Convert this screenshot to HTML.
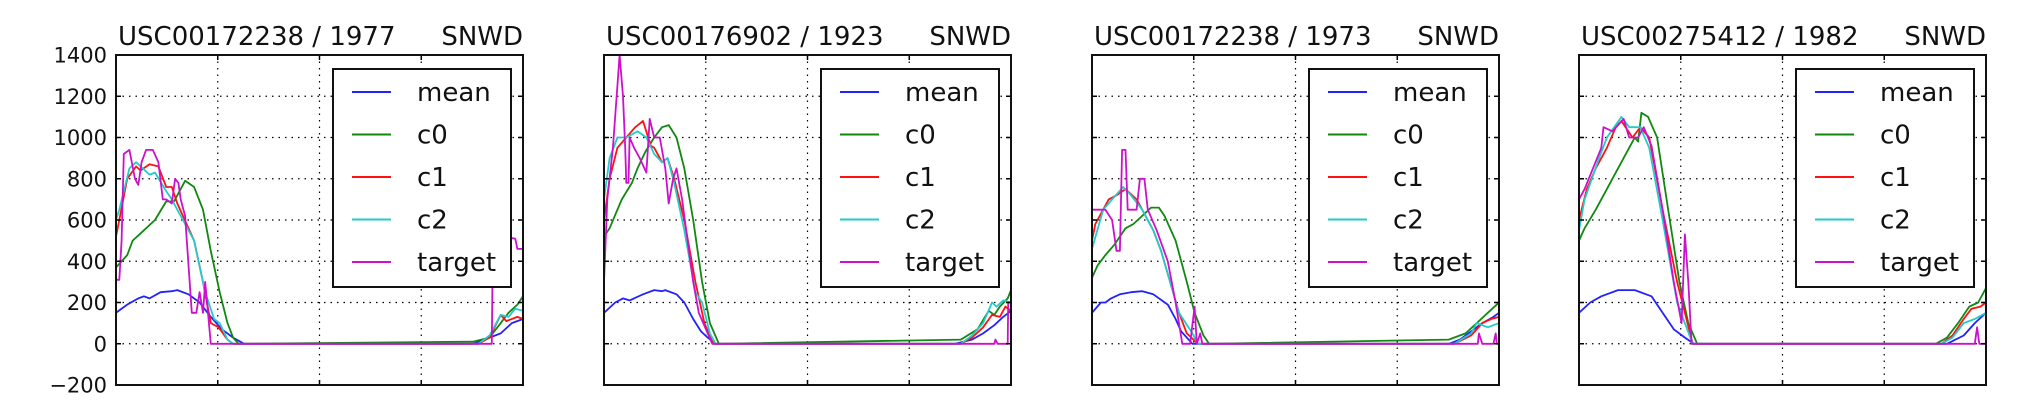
<!DOCTYPE html>
<html><head><meta charset="utf-8"><style>
html,body{margin:0;padding:0;background:#fff;}
svg{display:block;font-family:"DejaVu Sans","Liberation Sans",sans-serif;}
</style></head><body>
<svg id="fig" width="2032" height="410" viewBox="0 0 2032 410" xmlns="http://www.w3.org/2000/svg"></svg>
<script>
const titles = ["USC00172238 / 1977","USC00176902 / 1923","USC00172238 / 1973","USC00275412 / 1982"];
const yTicks = [-200,0,200,400,600,800,1000,1200,1400];
const xTicks = [91.25,182.5,273.75];
const seriesNames = ["mean","c0","c1","c2","target"];
const seriesColors = ["#2222ff","#118811","#ff1111","#22cccc","#cc11cc"];

const ch1_mean = [[0,150],[10,190],[20,220],[25,230],[30,220],[40,250],[50,255],[55,260],[65,240],[75,200],[85,130],[95,70],[105,30],[115,0],[320,0],[330,20],[340,40],[345,50],[355,100],[365,120]];
const ch1_c0 = [[0,370],[10,430],[15,500],[25,550],[35,600],[45,690],[52,690],[58,750],[62,790],[70,760],[78,650],[85,450],[93,250],[100,100],[105,30],[110,0],[320,10],[335,30],[345,100],[352,150],[360,190],[365,230]];
const ch1_c1 = [[0,520],[3,600],[10,800],[18,860],[22,840],[30,870],[38,860],[45,760],[50,760],[55,680],[60,620],[70,500],[78,300],[85,100],[92,80],[100,20],[105,0],[325,0],[335,30],[345,140],[350,110],[360,130],[365,120]];
const ch1_c2 = [[0,600],[3,650],[12,850],[18,880],[30,820],[35,830],[45,740],[50,700],[55,650],[60,600],[70,500],[80,250],[88,120],[93,100],[100,20],[105,0],[325,0],[335,40],[345,140],[352,130],[358,170],[365,160]];
const ch1_target = [[0,310],[3,310],[5,500],[7,920],[12,940],[17,800],[20,770],[23,880],[27,940],[33,940],[38,880],[42,700],[45,700],[50,680],[53,800],[56,780],[58,700],[62,620],[68,150],[72,150],[75,250],[78,150],[80,300],[85,0],[337,0],[338,500],[345,520],[358,510],[360,460],[365,460]];

const ch2_mean = [[0,150],[10,200],[17,220],[23,210],[35,240],[45,260],[52,255],[55,260],[65,240],[72,200],[80,120],[87,60],[93,30],[100,0],[315,0],[330,20],[340,50],[350,90],[358,130],[365,160]];
const ch2_c0 = [[0,520],[5,560],[12,650],[16,700],[25,780],[30,850],[37,930],[45,1000],[52,1050],[58,1060],[65,1000],[72,850],[80,600],[88,300],[95,100],[103,0],[320,20],[335,70],[345,160],[350,140],[355,180],[362,220],[365,260]];
const ch2_c1 = [[0,600],[5,800],[12,950],[20,1000],[28,1050],[35,1080],[42,960],[45,950],[52,880],[57,900],[63,800],[72,600],[82,300],[90,100],[98,0],[320,0],[330,30],[340,80],[348,140],[355,130],[360,180],[365,160]];
const ch2_c2 = [[0,700],[5,900],[12,1000],[20,1000],[30,1030],[38,1000],[45,920],[52,880],[57,900],[63,780],[72,550],[82,250],[88,200],[95,50],[100,0],[320,0],[330,40],[340,100],[348,200],[352,180],[358,210],[365,200]];
const ch2_target = [[0,300],[3,700],[8,950],[12,1250],[14,1400],[17,1200],[19,950],[20,780],[22,780],[23,1000],[27,950],[32,900],[38,830],[41,1090],[45,1000],[50,1000],[55,850],[58,680],[62,800],[65,850],[70,700],[75,500],[80,300],[85,150],[97,0],[350,0],[351,20],[353,0],[362,0],[362.5,200],[365,200]];

const ch3_mean = [[0,150],[8,200],[12,200],[17,220],[25,240],[35,250],[45,255],[55,240],[68,190],[75,120],[80,60],[90,0],[320,0],[330,20],[340,60],[350,100],[360,130],[365,150]];
const ch3_c0 = [[0,320],[5,380],[12,430],[20,480],[30,560],[37,580],[45,620],[53,660],[60,660],[65,620],[75,500],[85,300],[92,150],[100,40],[105,0],[320,20],[335,50],[345,100],[355,150],[365,200]];
const ch3_c1 = [[0,500],[3,580],[15,700],[22,720],[30,750],[40,700],[45,650],[55,550],[62,450],[70,300],[78,150],[85,50],[95,0],[325,0],[340,40],[350,100],[358,120],[365,130]];
const ch3_c2 = [[0,460],[10,650],[18,700],[28,760],[35,720],[45,650],[55,550],[62,450],[70,300],[78,150],[90,50],[95,0],[325,0],[340,50],[345,100],[355,80],[365,100]];
const ch3_target = [[0,650],[12,650],[18,600],[22,450],[25,450],[27,940],[30,940],[32,650],[40,650],[43,800],[47,800],[50,650],[58,550],[68,400],[75,200],[81,0],[88,0],[92,180],[94,0],[97,50],[99,0],[346,0],[347,50],[350,0],[360,0],[362,50],[363,0],[365,0]];

const ch4_mean = [[0,150],[10,200],[20,230],[35,260],[50,260],[65,230],[75,150],[85,70],[95,30],[103,0],[330,0],[345,40],[355,100],[365,150]];
const ch4_c0 = [[0,500],[5,560],[15,650],[25,750],[35,850],[45,950],[50,1000],[53,980],[56,1120],[62,1100],[70,1000],[80,650],[90,300],[98,100],[106,0],[320,0],[330,30],[340,100],[350,180],[358,200],[365,270]];
const ch4_c1 = [[0,600],[7,750],[15,850],[25,950],[33,1050],[38,1080],[48,1000],[55,1050],[63,1000],[75,650],[88,300],[102,0],[325,0],[335,40],[345,120],[352,170],[360,180],[365,200]];
const ch4_c2 = [[0,550],[5,700],[18,900],[25,1000],[38,1100],[45,1050],[55,1050],[63,950],[75,600],[88,200],[102,0],[325,0],[335,30],[345,100],[355,120],[365,150]];
const ch4_target = [[0,700],[5,750],[20,950],[22,1050],[30,1030],[40,1090],[45,1000],[53,1000],[58,1050],[65,960],[75,650],[85,300],[92,100],[95,530],[98,300],[101,0],[355,0],[357,80],[359,0],[365,0]];

const allData = [
  [ch1_mean,ch1_c0,ch1_c1,ch1_c2,ch1_target],
  [ch2_mean,ch2_c0,ch2_c1,ch2_c2,ch2_target],
  [ch3_mean,ch3_c0,ch3_c1,ch3_c2,ch3_target],
  [ch4_mean,ch4_c0,ch4_c1,ch4_c2,ch4_target]
];

const NS = "http://www.w3.org/2000/svg";
const fig = document.getElementById('fig');
function mk(tag, attrs, parent){
  const e = document.createElementNS(NS, tag);
  for (const k in attrs) e.setAttribute(k, attrs[k]);
  parent.appendChild(e);
  return e;
}
const W = 407, H = 330, TOP = 55;
const lefts = [116, 604, 1092, 1579];
const YMIN = -200, YMAX = 1400, XMIN = 0, XMAX = 365;

for (let c = 0; c < 4; c++) {
  const L = lefts[c];
  const xs = d => L + (d - XMIN) / (XMAX - XMIN) * W;
  const ys = v => TOP + H - (v - YMIN) / (YMAX - YMIN) * H;
  const g = mk('g', {}, fig);
  
  

  // grid
  for (const t of yTicks) {
    if (t === YMIN || t === YMAX) continue;
    const ln = mk('line', {x1:L, x2:L+W, y1:ys(t), y2:ys(t), stroke:'#000', 'stroke-width':1.2, 'stroke-dasharray':'1.5,5'}, g);
    
    
  }
  for (const t of xTicks) {
    const ln = mk('line', {x1:xs(t), x2:xs(t), y1:TOP, y2:TOP+H, stroke:'#000', 'stroke-width':1.2, 'stroke-dasharray':'1.5,5'}, g);
    
    
  }

  // series
  const clipId = 'clip' + c;
  const cp = mk('clipPath', {id: clipId}, g);
  mk('rect', {x:L, y:TOP, width:W, height:H}, cp);
  const data = allData[c];
  for (let s = 0; s < 5; s++) {
    const pts = data[s].map(p => xs(p[0]).toFixed(1) + ',' + ys(p[1]).toFixed(1)).join(' ');
    const pl = mk('polyline', {points: pts, fill:'none', stroke: seriesColors[s], 'stroke-width':1.8, 'stroke-linejoin':'round', 'clip-path':'url(#' + clipId + ')'}, g);
    
    
  }

  // ticks
  for (const t of yTicks) {
    if (t === YMIN || t === YMAX) continue;
    mk('line', {x1:L, x2:L+5, y1:ys(t), y2:ys(t), stroke:'#000', 'stroke-width':1.5}, g);
    mk('line', {x1:L+W-5, x2:L+W, y1:ys(t), y2:ys(t), stroke:'#000', 'stroke-width':1.5}, g);
  }
  for (const t of xTicks) {
    mk('line', {x1:xs(t), x2:xs(t), y1:TOP, y2:TOP+5, stroke:'#000', 'stroke-width':1.5}, g);
    mk('line', {x1:xs(t), x2:xs(t), y1:TOP+H-5, y2:TOP+H, stroke:'#000', 'stroke-width':1.5}, g);
  }

  // frame
  const fr = mk('rect', {x:L, y:TOP, width:W, height:H, fill:'none', stroke:'#111', 'stroke-width':2}, g);
  
  

  // y tick labels (only first chart)
  if (c === 0) {
    for (const t of yTicks) {
      const tx = mk('text', {x:L-9, y:ys(t)+7.5, 'text-anchor':'end', 'font-size':21, fill:'#111'}, g);
      tx.textContent = (t < 0 ? '\u2212' + Math.abs(t) : String(t));
      
      
    }
  }

  // title
  const t1 = mk('text', {x:L+2, y:45, 'font-size':26, fill:'#111'}, g);
  t1.textContent = titles[c];
  
  
  const t2 = mk('text', {x:L+W, y:45, 'font-size':26, 'text-anchor':'end', fill:'#111'}, g);
  t2.textContent = 'SNWD';
  
  

  // legend
  const lg = mk('g', {}, g);
  
  
  const LX = L + 217;
  mk('rect', {x:LX, y:69, width:178, height:218, fill:'#fff', stroke:'#111', 'stroke-width':2}, lg);
  for (let s = 0; s < 5; s++) {
    const cy = 92 + s * 42.5;
    const e = mk('g', {}, lg);
    
    
    mk('line', {x1:LX+19, x2:LX+58, y1:cy, y2:cy, stroke:seriesColors[s], 'stroke-width':2}, e);
    const tx = mk('text', {x:LX+84, y:cy+9, 'font-size':26, fill:'#111'}, e);
    tx.textContent = seriesNames[s];
  }
}
</script>
</body></html>
